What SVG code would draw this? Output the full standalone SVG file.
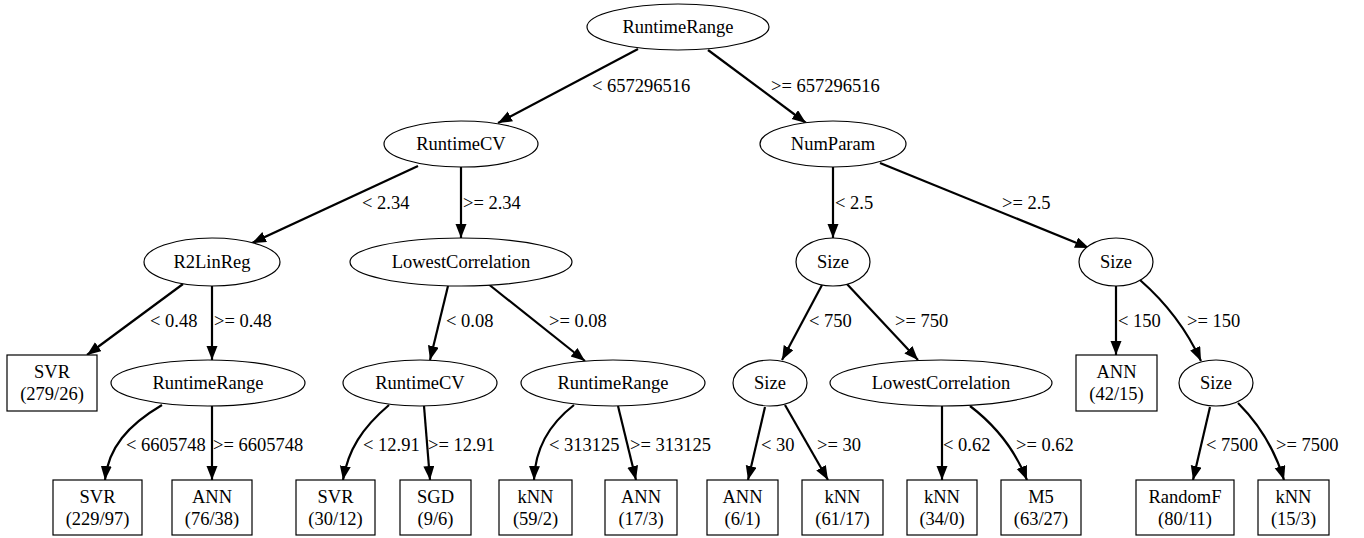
<svg xmlns="http://www.w3.org/2000/svg" width="1364" height="538" viewBox="0 0 1364 538">
<defs>
<style>
text{font-family:"Liberation Serif","Times New Roman",serif;font-size:18.5px;fill:#000}
.n ellipse,.n rect{fill:#fff;stroke:#000;stroke-width:1.2}
.n text{text-anchor:middle}
#edges path{fill:none;stroke:#000;stroke-width:2.2;marker-end:url(#ah)}
</style>
<marker id="ah" markerUnits="userSpaceOnUse" markerWidth="16" markerHeight="12" refX="14" refY="5.5" orient="auto">
<path d="M0,0 L14,5.5 L0,11 Z" fill="#000"/>
</marker>
</defs>
<rect width="1364" height="538" fill="#fff"/>
<g id="edges">
<path d="M638,49 L498,123"/>
<path d="M708,50 L806,123"/>
<path d="M418,166 L252,243"/>
<path d="M461,167 L461,238"/>
<path d="M833,167 L833,238"/>
<path d="M880,163 L1089,248"/>
<path d="M183,284 L87,355"/>
<path d="M212,286 L212,360"/>
<path d="M448,286 L430,360"/>
<path d="M487,283 L585,361"/>
<path d="M822,285 L782,360"/>
<path d="M846,283 L918,360"/>
<path d="M1116,286 L1116,355"/>
<path d="M1140,280 Q1180,315 1201,361"/>
<path d="M162,405 C128,425 108,448 105,480"/>
<path d="M212,406 L212,480"/>
<path d="M389,405 C362,428 348,450 343,480"/>
<path d="M424,406 L430,480"/>
<path d="M574,405 C548,425 535,450 534,480"/>
<path d="M618,406 L636,480"/>
<path d="M765,407 L748,480"/>
<path d="M785,405 L828,480"/>
<path d="M942,406 L942,480"/>
<path d="M970,406 C995,425 1015,450 1027,480"/>
<path d="M1210,407 L1193,480"/>
<path d="M1238,403 C1260,425 1275,450 1284,480"/>
</g>
<g id="edge-labels">
<text x="592" y="92">&lt; 657296516</text>
<text x="771" y="92">&gt;= 657296516</text>
<text x="362" y="209">&lt; 2.34</text>
<text x="463" y="209">&gt;= 2.34</text>
<text x="835" y="209">&lt; 2.5</text>
<text x="1002" y="209">&gt;= 2.5</text>
<text x="150" y="327">&lt; 0.48</text>
<text x="214" y="327">&gt;= 0.48</text>
<text x="446" y="327">&lt; 0.08</text>
<text x="549" y="327">&gt;= 0.08</text>
<text x="809" y="327">&lt; 750</text>
<text x="895" y="327">&gt;= 750</text>
<text x="1118" y="327">&lt; 150</text>
<text x="1187" y="327">&gt;= 150</text>
<text x="126" y="451">&lt; 6605748</text>
<text x="213" y="451">&gt;= 6605748</text>
<text x="363" y="451">&lt; 12.91</text>
<text x="428" y="451">&gt;= 12.91</text>
<text x="549" y="451">&lt; 313125</text>
<text x="630" y="451">&gt;= 313125</text>
<text x="761" y="451">&lt; 30</text>
<text x="817" y="451">&gt;= 30</text>
<text x="943" y="451">&lt; 0.62</text>
<text x="1016" y="451">&gt;= 0.62</text>
<text x="1206" y="451">&lt; 7500</text>
<text x="1276" y="451">&gt;= 7500</text>
</g>
<g id="n_root" class="n"><ellipse cx="678" cy="27" rx="91" ry="23"/><text x="678" y="33">RuntimeRange</text></g>
<g id="n_rtcv" class="n"><ellipse cx="461" cy="144" rx="77" ry="23"/><text x="461" y="150">RuntimeCV</text></g>
<g id="n_numparam" class="n"><ellipse cx="833" cy="144" rx="73" ry="23"/><text x="833" y="150">NumParam</text></g>
<g id="n_r2lin" class="n"><ellipse cx="212" cy="262" rx="68" ry="24"/><text x="212" y="268">R2LinReg</text></g>
<g id="n_lowcorr1" class="n"><ellipse cx="461" cy="262" rx="111" ry="24"/><text x="461" y="268">LowestCorrelation</text></g>
<g id="n_size1" class="n"><ellipse cx="833" cy="262" rx="37" ry="24"/><text x="833" y="268">Size</text></g>
<g id="n_size2" class="n"><ellipse cx="1116" cy="262" rx="37" ry="24"/><text x="1116" y="268">Size</text></g>
<g id="n_svr1" class="n"><rect x="7" y="355" width="90" height="56"/><text x="52" y="378">SVR</text><text x="52" y="400">(279/26)</text></g>
<g id="n_rtr2" class="n"><ellipse cx="208" cy="383" rx="97" ry="23"/><text x="208" y="389">RuntimeRange</text></g>
<g id="n_rtcv2" class="n"><ellipse cx="420" cy="383" rx="77" ry="23"/><text x="420" y="389">RuntimeCV</text></g>
<g id="n_rtr3" class="n"><ellipse cx="613" cy="383" rx="92" ry="23"/><text x="613" y="389">RuntimeRange</text></g>
<g id="n_size3" class="n"><ellipse cx="770" cy="383" rx="37" ry="23"/><text x="770" y="389">Size</text></g>
<g id="n_lowcorr2" class="n"><ellipse cx="941" cy="383" rx="111" ry="23"/><text x="941" y="389">LowestCorrelation</text></g>
<g id="n_ann1" class="n"><rect x="1076" y="355" width="81" height="56"/><text x="1116.5" y="378">ANN</text><text x="1116.5" y="400">(42/15)</text></g>
<g id="n_size4" class="n"><ellipse cx="1216" cy="383" rx="37" ry="23"/><text x="1216" y="389">Size</text></g>
<g id="n_svr2" class="n"><rect x="53" y="480" width="89" height="55"/><text x="97.5" y="503">SVR</text><text x="97.5" y="525">(229/97)</text></g>
<g id="n_ann2" class="n"><rect x="172" y="480" width="80" height="55"/><text x="212" y="503">ANN</text><text x="212" y="525">(76/38)</text></g>
<g id="n_svr3" class="n"><rect x="296" y="480" width="79" height="55"/><text x="335.5" y="503">SVR</text><text x="335.5" y="525">(30/12)</text></g>
<g id="n_sgd" class="n"><rect x="400" y="480" width="71" height="55"/><text x="435.5" y="503">SGD</text><text x="435.5" y="525">(9/6)</text></g>
<g id="n_knn1" class="n"><rect x="499" y="480" width="73" height="55"/><text x="535.5" y="503">kNN</text><text x="535.5" y="525">(59/2)</text></g>
<g id="n_ann3" class="n"><rect x="605" y="480" width="72" height="55"/><text x="641" y="503">ANN</text><text x="641" y="525">(17/3)</text></g>
<g id="n_ann4" class="n"><rect x="707" y="480" width="71" height="55"/><text x="742.5" y="503">ANN</text><text x="742.5" y="525">(6/1)</text></g>
<g id="n_knn2" class="n"><rect x="802" y="480" width="81" height="55"/><text x="842.5" y="503">kNN</text><text x="842.5" y="525">(61/17)</text></g>
<g id="n_knn3" class="n"><rect x="907" y="480" width="70" height="55"/><text x="942" y="503">kNN</text><text x="942" y="525">(34/0)</text></g>
<g id="n_m5" class="n"><rect x="1001" y="480" width="80" height="55"/><text x="1041" y="503">M5</text><text x="1041" y="525">(63/27)</text></g>
<g id="n_randf" class="n"><rect x="1136" y="480" width="98" height="55"/><text x="1185" y="503">RandomF</text><text x="1185" y="525">(80/11)</text></g>
<g id="n_knn4" class="n"><rect x="1258" y="480" width="71" height="55"/><text x="1293.5" y="503">kNN</text><text x="1293.5" y="525">(15/3)</text></g>
</svg>
